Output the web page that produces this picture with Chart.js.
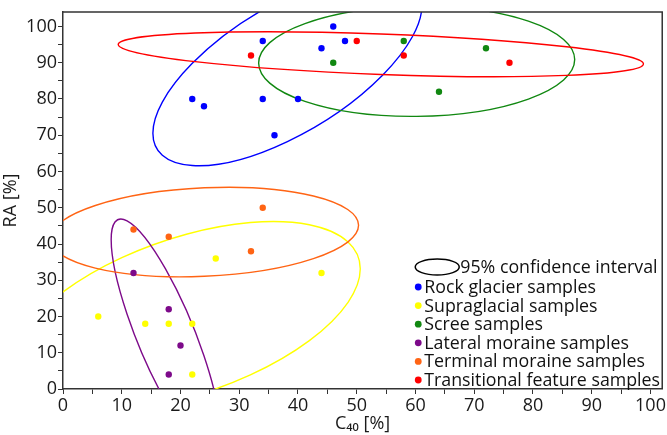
<!DOCTYPE html>
<html>
<head>
<meta charset="utf-8">
<script src="https://cdn.jsdelivr.net/npm/chart.js@4"></script>
<style>
  html, body { margin: 0; padding: 0; background: #fff; }
  canvas { display: block; }
</style>
</head>
<body>
<canvas id="chart" width="667" height="435"></canvas>
<script>
// sample groups
const groups = [
  "Rock glacier samples",
  "Supraglacial samples",
  "Scree samples",
  "Lateral moraine samples",
  "Terminal moraine samples",
  "Transitional feature samples",
];
const colors = ["#0000ff", "#ffff00", "#118811", "#7d0a8a", "#ff6414", "#ff0000"];

// C40 [%] and RA [%] per group
const rockX = [22, 24, 34, 34, 36, 40, 44, 46, 48];
const rockY = [80, 78, 96, 80, 70, 80, 94, 100, 96];
const supraX = [6, 14, 18, 22, 22, 26, 44];
const supraY = [20, 18, 18, 18, 4, 36, 32];
const screeX = [46, 58, 64, 72];
const screeY = [90, 96, 82, 94];
const lateralX = [12, 18, 20, 18];
const lateralY = [32, 22, 12, 4];
const terminalX = [12, 18, 32, 34];
const terminalY = [44, 42, 38, 50];
const transX = [32, 50, 58, 76];
const transY = [92, 96, 92, 90];

// 95% ellipses: centre, half width, half height (data units), phase of y against x
const ellCx = [38.2, 21.0, 60.2, 17.45, 24.06, 54.1];
const ellCy = [88.2, 20.1, 90.4, 14.9, 43.3, 92.35];
const ellRx = [22.9, 29.6, 26.9, 9.25, 26.25, 44.7];
const ellRy = [26.6, 26.1, 15.2, 32.0, 12.35, 6.19];
const ellPhase = [0.847, 1.047, 1.54, 2.536, 1.42, 2.018];

const xTicks = [0, 10, 20, 30, 40, 50, 60, 70, 80, 90, 100];
const yTicks = [0, 10, 20, 30, 40, 50, 60, 70, 80, 90, 100];

const FONT = "'Open Sans', 'DejaVu Sans', sans-serif";

const toPoints = (xs, ys) => xs.map((x, i) => ({ x: x, y: ys[i] }));
const seriesX = [rockX, supraX, screeX, lateralX, terminalX, transX];
const seriesY = [rockY, supraY, screeY, lateralY, terminalY, transY];

const datasets = groups.map((label, i) => ({
  label: label,
  data: toPoints(seriesX[i], seriesY[i]),
  backgroundColor: colors[i],
  borderWidth: 0,
  pointRadius: 3.2,
  pointHoverRadius: 3.2,
}));

// confidence ellipses, mapped through the chart scales
const ellipsePlugin = {
  id: "ellipses",
  beforeDatasetsDraw(chart) {
    const { ctx, chartArea, scales } = chart;
    const xs = scales.x, ys = scales.y;
    ctx.save();
    ctx.beginPath();
    ctx.rect(chartArea.left, chartArea.top, chartArea.right - chartArea.left, chartArea.bottom - chartArea.top);
    ctx.clip();
    ellCx.forEach((cx, i) => {
      const x0 = xs.getPixelForValue(cx);
      const y0 = ys.getPixelForValue(ellCy[i]);
      const a = xs.getPixelForValue(cx + ellRx[i]) - x0;
      const b = ys.getPixelForValue(ellCy[i] + ellRy[i]) - y0;
      const p = ellPhase[i];
      ctx.save();
      ctx.beginPath();
      ctx.transform(a, b * Math.cos(p), 0, -b * Math.sin(p), x0, y0);
      ctx.arc(0, 0, 1, 0, Math.PI * 2);
      ctx.restore();
      ctx.lineWidth = 1.4;
      ctx.strokeStyle = colors[i];
      ctx.stroke();
    });
    ctx.restore();
  },
};

// top and right edges of the frame
const framePlugin = {
  id: "frame",
  afterDraw(chart) {
    const { ctx, chartArea } = chart;
    ctx.save();
    ctx.strokeStyle = "#333";
    ctx.lineWidth = 1.5;
    ctx.beginPath();
    ctx.moveTo(chartArea.left, chartArea.top);
    ctx.lineTo(chartArea.right, chartArea.top);
    ctx.lineTo(chartArea.right, chartArea.bottom);
    ctx.stroke();
    ctx.restore();
  },
};

// legend in the lower right corner of the plot
const legendPlugin = {
  id: "legendBox",
  afterDraw(chart) {
    const { ctx, chartArea } = chart;
    const left = chartArea.right - 252;
    const top = chartArea.bottom - 122;
    ctx.save();
    ctx.font = "17.8px " + FONT;
    ctx.fillStyle = "#111";
    ctx.textBaseline = "middle";

    ctx.beginPath();
    ctx.ellipse(left + 27, top, 22, 8, 0, 0, Math.PI * 2);
    ctx.strokeStyle = "#000";
    ctx.lineWidth = 1.5;
    ctx.stroke();
    ctx.fillText("95% confidence interval", left + 50, top + 1);

    chart.data.datasets.forEach((ds, i) => {
      const y = top + 20 + i * 18.6;
      ctx.beginPath();
      ctx.arc(left + 8, y, 3.4, 0, Math.PI * 2);
      ctx.fillStyle = ds.backgroundColor;
      ctx.fill();
      ctx.fillStyle = "#111";
      ctx.fillText(ds.label, left + 14, y + 1);
    });
    ctx.restore();
  },
};

const tickLabel = (list) => (v) => (list.includes(v) ? v : "");

new Chart(document.getElementById("chart"), {
  type: "scatter",
  data: { datasets: datasets },
  options: {
    responsive: false,
    animation: false,
    devicePixelRatio: 1,
    layout: { padding: { top: 12, right: 4, left: 0, bottom: 0 } },
    plugins: {
      legend: { display: false },
      tooltip: { enabled: false },
    },
    scales: {
      x: {
        type: "linear",
        min: 0,
        max: 102,
        afterFit: (s) => { s.height = 46; },
        border: { color: "#333", width: 1.5 },
        grid: { drawOnChartArea: false, tickLength: 5, color: "#333" },
        ticks: {
          stepSize: 5,
          includeBounds: false,
          autoSkip: false,
          maxRotation: 0,
          padding: 1,
          color: "#1a1a1a",
          font: { family: FONT, size: 18 },
          callback: tickLabel(xTicks),
        },
        title: {
          display: true,
          text: "C₄₀ [%]",
          color: "#1a1a1a",
          font: { family: FONT, size: 18 },
          padding: { top: 0, bottom: 0 },
        },
      },
      y: {
        type: "linear",
        min: 0,
        max: 104,
        afterFit: (s) => { s.width = 63; },
        border: { color: "#333", width: 1.5 },
        grid: { drawOnChartArea: false, tickLength: 5, color: "#333" },
        ticks: {
          stepSize: 5,
          includeBounds: false,
          autoSkip: false,
          padding: 1,
          color: "#1a1a1a",
          font: { family: FONT, size: 18 },
          callback: tickLabel(yTicks),
        },
        title: {
          display: true,
          text: "RA [%]",
          color: "#1a1a1a",
          font: { family: FONT, size: 18 },
          padding: { top: 0, bottom: 0 },
        },
      },
    },
  },
  plugins: [ellipsePlugin, framePlugin, legendPlugin],
});
</script>
</body>
</html>
